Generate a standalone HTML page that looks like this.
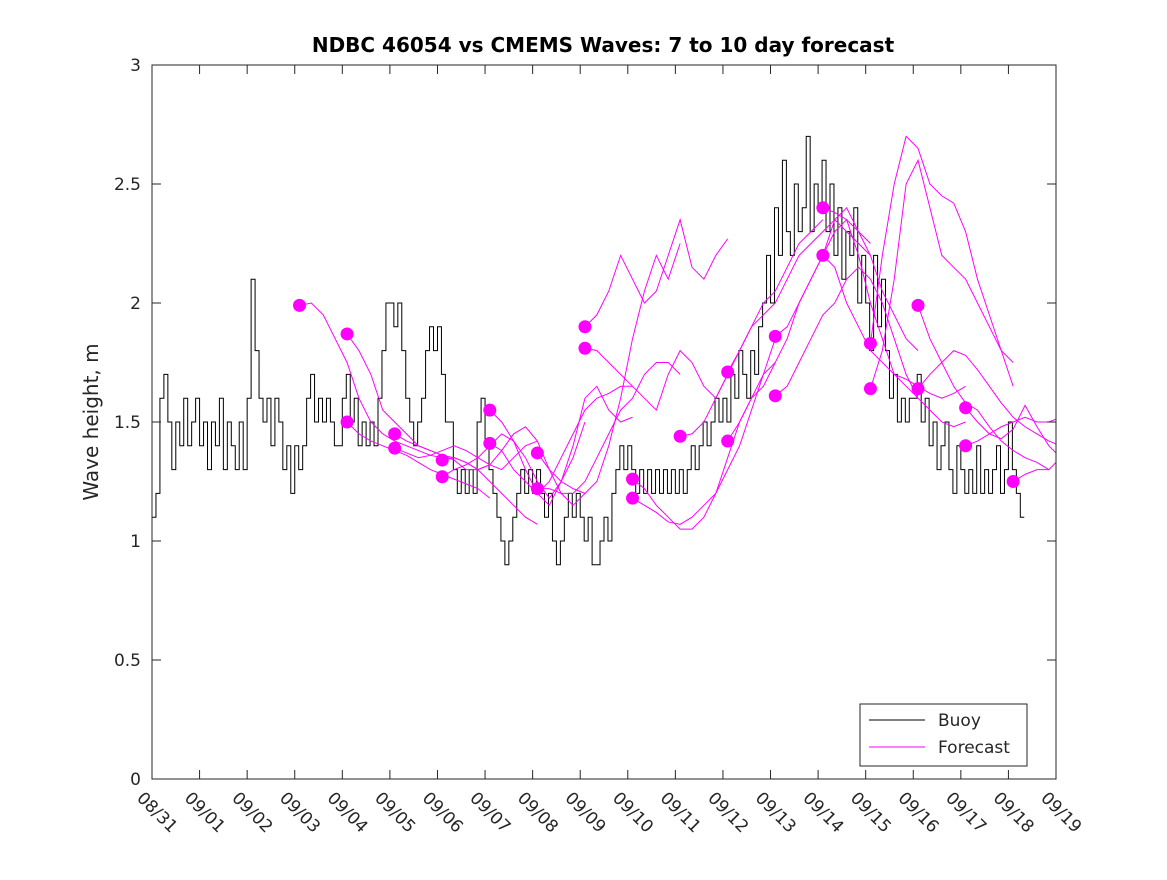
<!DOCTYPE html>
<html><head><meta charset="utf-8"><style>
body{margin:0;background:#fff}
svg text{font-family:"DejaVu Sans","Liberation Sans",sans-serif;fill:#262626}
</style></head><body>
<svg id="chart" width="1167" height="875" xmlns="http://www.w3.org/2000/svg">
<rect width="1167" height="875" fill="#fff"/>
<text x="603" y="52" text-anchor="middle" font-size="20" font-weight="bold" style="fill:#000">NDBC 46054 vs CMEMS Waves: 7 to 10 day forecast</text>
<text transform="translate(98,422) rotate(-90)" text-anchor="middle" font-size="20">Wave height, m</text>
<g id="plot"></g>
<rect x="152" y="65" width="904" height="714" fill="none" stroke="#262626" stroke-width="1"/>
<g id="axes"></g>
<g>
<rect x="860" y="704" width="167" height="62" fill="#fff" stroke="#262626"/>
<line x1="869" y1="720" x2="925" y2="720" stroke="#000"/>
<text x="938" y="726" font-size="17">Buoy</text>
<line x1="869" y1="747" x2="925" y2="747" stroke="#f0f"/>
<text x="938" y="753" font-size="17">Forecast</text>
</g>
</svg>
<script>
const xTickLabels=["08/31","09/01","09/02","09/03","09/04","09/05","09/06","09/07","09/08","09/09","09/10","09/11","09/12","09/13","09/14","09/15","09/16","09/17","09/18","09/19"];
const yTickLabels=["0","0.5","1","1.5","2","2.5","3"];
const buoyStep=1/12;
const buoy=[1.1,1.2,1.6,1.7,1.5,1.3,1.5,1.4,1.6,1.4,1.5,1.6,
1.4,1.5,1.3,1.5,1.4,1.6,1.3,1.5,1.4,1.3,1.5,1.3,
1.6,2.1,1.8,1.6,1.5,1.6,1.4,1.6,1.5,1.3,1.4,1.2,
1.4,1.3,1.4,1.6,1.7,1.5,1.6,1.5,1.6,1.5,1.4,1.4,
1.6,1.7,1.5,1.6,1.4,1.5,1.4,1.5,1.4,1.6,1.8,2.0,
2.0,1.9,2.0,1.8,1.6,1.5,1.4,1.5,1.6,1.8,1.9,1.8,
1.9,1.7,1.5,1.5,1.3,1.2,1.3,1.2,1.3,1.2,1.5,1.6,
1.4,1.3,1.2,1.1,1.0,0.9,1.0,1.1,1.2,1.3,1.2,1.3,
1.2,1.3,1.2,1.1,1.2,1.0,0.9,1.0,1.1,1.2,1.1,1.2,
1.1,1.0,1.1,0.9,0.9,1.0,1.1,1.0,1.2,1.3,1.4,1.3,
1.4,1.3,1.2,1.3,1.2,1.3,1.2,1.3,1.2,1.3,1.2,1.3,
1.2,1.3,1.2,1.3,1.4,1.3,1.4,1.5,1.4,1.5,1.6,1.5,
1.6,1.5,1.7,1.6,1.8,1.7,1.6,1.8,1.7,1.9,2.0,2.2,
2.0,2.4,2.2,2.6,2.3,2.2,2.5,2.3,2.4,2.7,2.3,2.5,
2.4,2.6,2.3,2.5,2.2,2.4,2.1,2.3,2.2,2.4,2.0,2.2,
2.0,1.8,2.2,1.9,2.1,1.8,1.6,1.7,1.5,1.6,1.5,1.6,
1.6,1.7,1.5,1.6,1.4,1.5,1.3,1.4,1.5,1.3,1.2,1.4,
1.3,1.2,1.3,1.2,1.4,1.2,1.3,1.2,1.3,1.4,1.2,1.3,
1.5,1.3,1.2,1.1];
const fcStarts=[3.1,4.1,4.1,5.1,5.1,6.1,6.1,7.1,7.1,8.1,8.1,9.1,9.1,10.1,10.1,11.1,12.1,12.1,13.1,13.1,14.1,14.1,15.1,15.1,16.1,16.1,17.1,17.1,18.1];
const fcStep=0.25;
const fcValues=[
[1.99,2.0,1.95,1.85,1.75,1.6,1.5,1.45,1.42,1.4,1.38,1.36,1.35],
[1.87,1.8,1.7,1.55,1.5,1.45,1.4,1.38,1.36,1.34,1.3,1.3,1.32],
[1.50,1.45,1.42,1.40,1.38,1.36,1.33,1.30,1.28,1.26,1.24,1.22,1.18],
[1.45,1.42,1.40,1.38,1.36,1.35,1.33,1.30,1.25,1.20,1.15,1.10,1.07],
[1.39,1.37,1.35,1.36,1.38,1.40,1.38,1.35,1.32,1.30,1.35,1.40,1.42],
[1.34,1.35,1.33,1.30,1.32,1.38,1.45,1.48,1.42,1.30,1.20,1.15,1.20],
[1.27,1.30,1.32,1.35,1.40,1.45,1.42,1.35,1.25,1.18,1.25,1.35,1.50],
[1.55,1.50,1.42,1.30,1.20,1.15,1.25,1.40,1.60,1.65,1.55,1.50,1.52],
[1.41,1.38,1.30,1.25,1.20,1.25,1.35,1.45,1.55,1.60,1.62,1.65,1.65],
[1.37,1.30,1.25,1.22,1.20,1.25,1.40,1.60,1.85,2.05,2.20,2.10,2.25],
[1.22,1.22,1.20,1.20,1.25,1.35,1.45,1.55,1.60,1.70,1.75,1.75,1.70],
[1.90,1.95,2.05,2.20,2.10,2.00,2.05,2.20,2.35,2.15,2.10,2.20,2.27],
[1.81,1.80,1.75,1.70,1.65,1.60,1.55,1.70,1.80,1.75,1.65,1.60,1.70],
[1.26,1.22,1.15,1.10,1.05,1.05,1.10,1.20,1.35,1.50,1.60,1.65,1.75],
[1.18,1.15,1.12,1.08,1.07,1.10,1.15,1.20,1.30,1.40,1.55,1.70,1.85],
[1.44,1.45,1.50,1.60,1.70,1.80,1.90,2.00,2.05,2.15,2.25,2.30,2.35],
[1.71,1.80,1.90,1.95,2.0,2.1,2.2,2.25,2.30,2.35,2.30,2.25,2.20],
[1.42,1.50,1.60,1.70,1.75,1.85,2.0,2.1,2.2,2.35,2.40,2.30,2.25],
[1.86,1.90,2.0,2.1,2.2,2.3,2.35,2.30,2.20,2.05,1.95,1.85,1.80],
[1.61,1.65,1.75,1.85,1.95,2.0,2.1,2.15,2.10,2.0,1.85,1.70,1.60],
[2.40,2.38,2.35,2.2,2.0,1.85,1.70,1.65,1.60,1.55,1.50,1.48,1.50],
[2.20,2.15,2.0,1.9,1.8,1.75,1.7,1.68,1.65,1.62,1.60,1.62,1.65],
[1.83,2.2,2.5,2.7,2.65,2.5,2.45,2.42,2.3,2.1,1.95,1.80,1.65],
[1.64,1.8,2.1,2.5,2.6,2.4,2.2,2.15,2.1,2.0,1.9,1.8,1.75],
[1.99,1.85,1.75,1.65,1.58,1.55,1.48,1.42,1.38,1.35,1.33,1.30,1.35],
[1.64,1.7,1.75,1.80,1.78,1.72,1.65,1.58,1.52,1.48,1.45,1.42,1.40],
[1.56,1.50,1.45,1.43,1.47,1.57,1.48,1.40,1.35],
[1.40,1.42,1.45,1.48,1.50,1.52,1.50,1.50,1.52],
[1.25,1.28,1.30,1.30]];

const X0=152,X1=1056,Y0=779,Y1=65,XMAX=19,YMAX=3;
const xs=t=>X0+(X1-X0)*t/XMAX;
const ys=v=>Y0-(Y0-Y1)*v/YMAX;
const NS="http://www.w3.org/2000/svg";
const plot=document.getElementById('plot');
const axes=document.getElementById('axes');
function mk(tag,attrs,parent){const e=document.createElementNS(NS,tag);for(const k in attrs)e.setAttribute(k,attrs[k]);parent.appendChild(e);return e;}

const defs=mk('defs',{},plot);
const cp=mk('clipPath',{id:'clip'},defs);
mk('rect',{x:X0,y:Y1,width:X1-X0,height:Y0-Y1},cp);
const g=mk('g',{'clip-path':'url(#clip)'},plot);

let d='';
buoy.forEach((v,i)=>{const x=xs(i*buoyStep),y=ys(v);if(i===0)d+='M'+x+' '+y;else d+=' H'+x+' V'+y;});
d+=' H'+xs(buoy.length*buoyStep);
const bl=mk('path',{d:d,fill:'none',stroke:'#000','stroke-width':1},g);



fcValues.forEach((arr,k)=>{
  const pts=arr.map((v,i)=>xs(fcStarts[k]+i*fcStep)+','+ys(v)).join(' ');
  const pl=mk('polyline',{points:pts,fill:'none',stroke:'#f0f','stroke-width':1},g);
  
  
});
fcValues.forEach((arr,k)=>{
  const c=mk('circle',{cx:xs(fcStarts[k]),cy:ys(arr[0]),r:6.5,fill:'#f0f'},g);
  
  
});

xTickLabels.forEach((lab,i)=>{
  const x=xs(i);
  const t1=mk('line',{x1:x,y1:Y0,x2:x,y2:Y0-9,stroke:'#262626'},axes);
  
  
  mk('line',{x1:x,y1:Y1,x2:x,y2:Y1+9,stroke:'#262626'},axes);
  const tx=mk('text',{x:0,y:0,'font-size':17,transform:'translate('+(x-16)+',799) rotate(45)'},axes);
  tx.textContent=lab;
  
  
});
yTickLabels.forEach((lab,i)=>{
  const y=ys(i*0.5);
  const t1=mk('line',{x1:X0,y1:y,x2:X0+9,y2:y,stroke:'#262626'},axes);
  
  
  mk('line',{x1:X1,y1:y,x2:X1-9,y2:y,stroke:'#262626'},axes);
  const tx=mk('text',{x:141,y:y+6,'font-size':17,'text-anchor':'end'},axes);
  tx.textContent=lab;
  
  
});
</script>
</body></html>
